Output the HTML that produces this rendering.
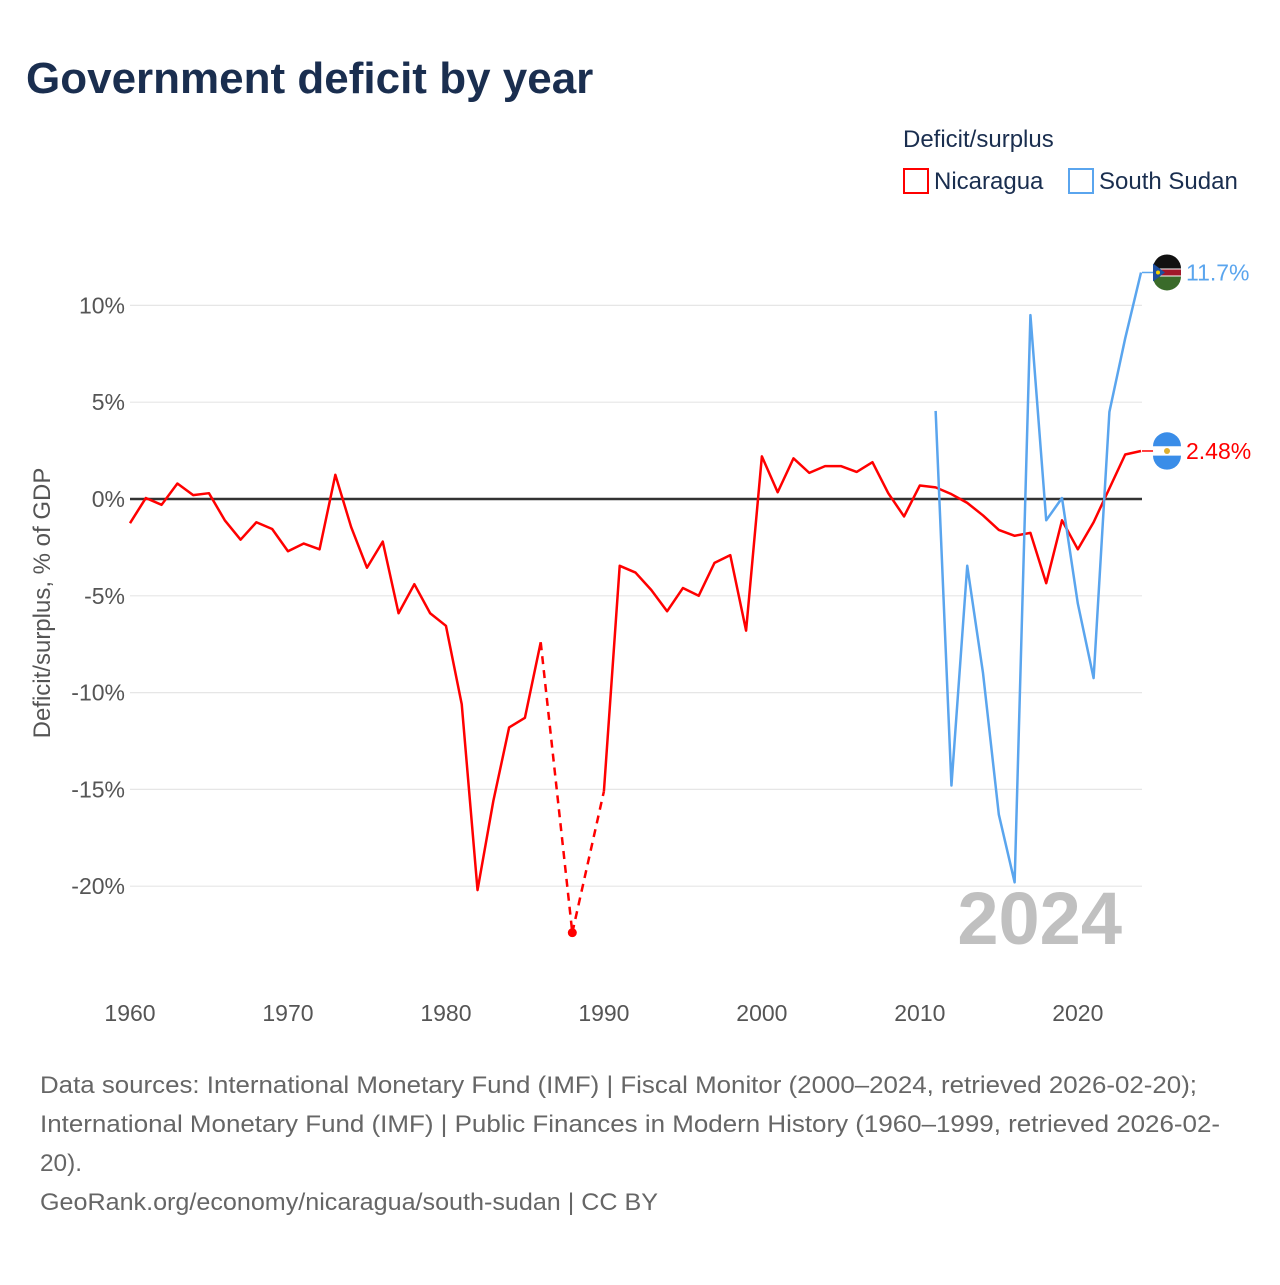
<!DOCTYPE html>
<html><head><meta charset="utf-8"><style>
body{margin:0;background:#fff;font-family:"Liberation Sans",sans-serif;}
svg text{font-family:"Liberation Sans",sans-serif;}
</style></head><body>
<svg id="chart" width="1280" height="1280" viewBox="0 0 1280 1280" xmlns="http://www.w3.org/2000/svg">
<text x="26" y="93" font-size="44" font-weight="bold" fill="#1a2e4f">Government deficit by year</text>
<text x="903" y="147" font-size="24" fill="#1a2e4f">Deficit/surplus</text>
<g>
<rect x="904" y="169" width="24" height="24" fill="none" stroke="#ff0000" stroke-width="2"/>
<text x="934" y="189" font-size="24" fill="#1a2e4f">Nicaragua</text></g>
<g>
<rect x="1069" y="169" width="24" height="24" fill="none" stroke="#5aa5ee" stroke-width="2"/>
<text x="1099" y="189" font-size="24" fill="#1a2e4f">South Sudan</text></g>
<g id="grid"></g>
<text x="1122" y="944" font-size="74" font-weight="bold" fill="#c0c0c0" text-anchor="end">2024</text>
<g id="marks"></g>
<text transform="translate(50,603) rotate(-90)" font-size="24" fill="#555" text-anchor="middle">Deficit/surplus, % of GDP</text>
<g font-size="24" fill="#666">
<text x="40" y="1093" textLength="1157" lengthAdjust="spacingAndGlyphs">Data sources: International Monetary Fund (IMF) | Fiscal Monitor (2000–2024, retrieved 2026-02-20);</text>
<text x="40" y="1132" textLength="1180" lengthAdjust="spacingAndGlyphs">International Monetary Fund (IMF) | Public Finances in Modern History (1960–1999, retrieved 2026-02-</text>
<text x="40" y="1171" textLength="42" lengthAdjust="spacingAndGlyphs">20).</text>
<text x="40" y="1210" textLength="618" lengthAdjust="spacingAndGlyphs">GeoRank.org/economy/nicaragua/south-sudan | CC BY</text>
</g>
</svg>
<script>
const yTicks=[10,5,0,-5,-10,-15,-20];
const xTicks=[1960,1970,1980,1990,2000,2010,2020];
const nicYears=[1960,1961,1962,1963,1964,1965,1966,1967,1968,1969,1970,1971,1972,1973,1974,1975,1976,1977,1978,1979,1980,1981,1982,1983,1984,1985,1986,1988,1990,1991,1992,1993,1994,1995,1996,1997,1998,1999,2000,2001,2002,2003,2004,2005,2006,2007,2008,2009,2010,2011,2012,2013,2014,2015,2016,2017,2018,2019,2020,2021,2022,2023,2024];
const nicValues=[-1.25,0.05,-0.3,0.8,0.2,0.3,-1.1,-2.1,-1.2,-1.55,-2.7,-2.3,-2.6,1.25,-1.45,-3.55,-2.2,-5.9,-4.4,-5.9,-6.55,-10.6,-20.2,-15.6,-11.8,-11.3,-7.4,-22.4,-15.1,-3.45,-3.8,-4.7,-5.8,-4.6,-5.0,-3.3,-2.9,-6.8,2.2,0.35,2.1,1.35,1.7,1.7,1.4,1.9,0.3,-0.9,0.7,0.6,0.25,-0.2,-0.85,-1.6,-1.9,-1.75,-4.35,-1.1,-2.6,-1.2,0.55,2.3,2.48];
const ssdYears=[2011,2012,2013,2014,2015,2016,2017,2018,2019,2020,2021,2022,2023,2024];
const ssdValues=[4.55,-14.8,-3.45,-9.0,-16.3,-19.8,9.5,-1.1,0.05,-5.4,-9.25,4.5,8.3,11.7];
const NS="http://www.w3.org/2000/svg";
const X=y=>130+(y-1960)*(1011/64);
const Y=v=>499-v*19.36;
const grid=document.getElementById('grid'),marks=document.getElementById('marks');
function mk(tag,attrs,parent){const e=document.createElementNS(NS,tag);for(const k in attrs)e.setAttribute(k,attrs[k]);parent.appendChild(e);return e;}
yTicks.forEach(t=>{
 const l=mk('line',{x1:130,x2:1142,y1:Y(t),y2:Y(t),stroke:t===0?'#333':'#e6e6e6','stroke-width':t===0?2.5:1.2},grid);
 
 
 const tx=mk('text',{x:125,y:Y(t)+8,'font-size':23,fill:'#555','text-anchor':'end'},grid);
 tx.textContent=t+'%';
 
 
});
xTicks.forEach(t=>{
 const tx=mk('text',{x:X(t),y:1021,'font-size':23,fill:'#555','text-anchor':'middle'},grid);
 tx.textContent=t;
 
 
});
function drawSeries(years,vals,color,name){
 let seg=[];const segs=[];
 for(let i=0;i<years.length;i++){
  if(i>0&&years[i]-years[i-1]>1){
   const d=mk('line',{x1:X(years[i-1]),y1:Y(vals[i-1]),x2:X(years[i]),y2:Y(vals[i]),stroke:color,'stroke-width':2.5,'stroke-dasharray':'8,6'},marks);
   
   
   if(seg.length)segs.push(seg);seg=[];
  }
  seg.push([years[i],vals[i]]);
 }
 segs.push(seg);
 segs.forEach(s=>{
  if(s.length===1){
   const c=mk('circle',{cx:X(s[0][0]),cy:Y(s[0][1]),r:4.5,fill:color},marks);
   
   
  }else{
   const p=mk('polyline',{points:s.map(q=>X(q[0])+','+Y(q[1])).join(' '),fill:'none',stroke:color,'stroke-width':2.5,'stroke-linejoin':'round'},marks);
   
   
  }
 });
}
drawSeries(nicYears,nicValues,'#ff0000','nicaragua');
drawSeries(ssdYears,ssdValues,'#5aa5ee','south-sudan');
function endLabel(v,color,name,label,flag){
 const y=Y(v);
 const l=mk('line',{x1:1142,x2:1154,y1:y,y2:y,stroke:color,'stroke-width':1.5},marks);
 
 
 const g=mk('g',{},marks);
 
 
 flag(g,1167,y);
 const t=mk('text',{x:1186,y:y+8,'font-size':23,fill:color},marks);
 t.textContent=label;
 
 
}
endLabel(nicValues[nicValues.length-1],'#ff0000','nicaragua','2.48%',(g,cx,cy)=>{
 mk('circle',{cx,cy,r:14,fill:'#fff'},g);
 mk('path',{d:`M${cx-14},${cy-4.7}A14,14 0 0 1 ${cx+14},${cy-4.7}Z`,fill:'#3a8de8'},g);
 mk('path',{d:`M${cx-14},${cy+4.7}A14,14 0 0 0 ${cx+14},${cy+4.7}Z`,fill:'#3a8de8'},g);
 mk('circle',{cx,cy,r:3,fill:'#e0b030'},g);
});
endLabel(ssdValues[ssdValues.length-1],'#5aa5ee','south-sudan','11.7%',(g,cx,cy)=>{
 mk('circle',{cx,cy,r:14,fill:'#fff'},g);
 mk('path',{d:`M${cx-14},${cy-4}A14,14 0 0 1 ${cx+14},${cy-4}Z`,fill:'#111'},g);
 mk('rect',{x:cx-14,y:cy-3,width:28,height:6,fill:'#a0182a'},g);
 mk('path',{d:`M${cx-14},${cy+4}A14,14 0 0 0 ${cx+14},${cy+4}Z`,fill:'#3a6b2a'},g);
 mk('path',{d:`M${cx-14},${cy-9}L${cx-2},${cy}L${cx-14},${cy+9}Z`,fill:'#1d4fa0'},g);
 mk('circle',{cx:cx-9,cy,r:2,fill:'#f5d000'},g);
});
</script>
</body></html>
